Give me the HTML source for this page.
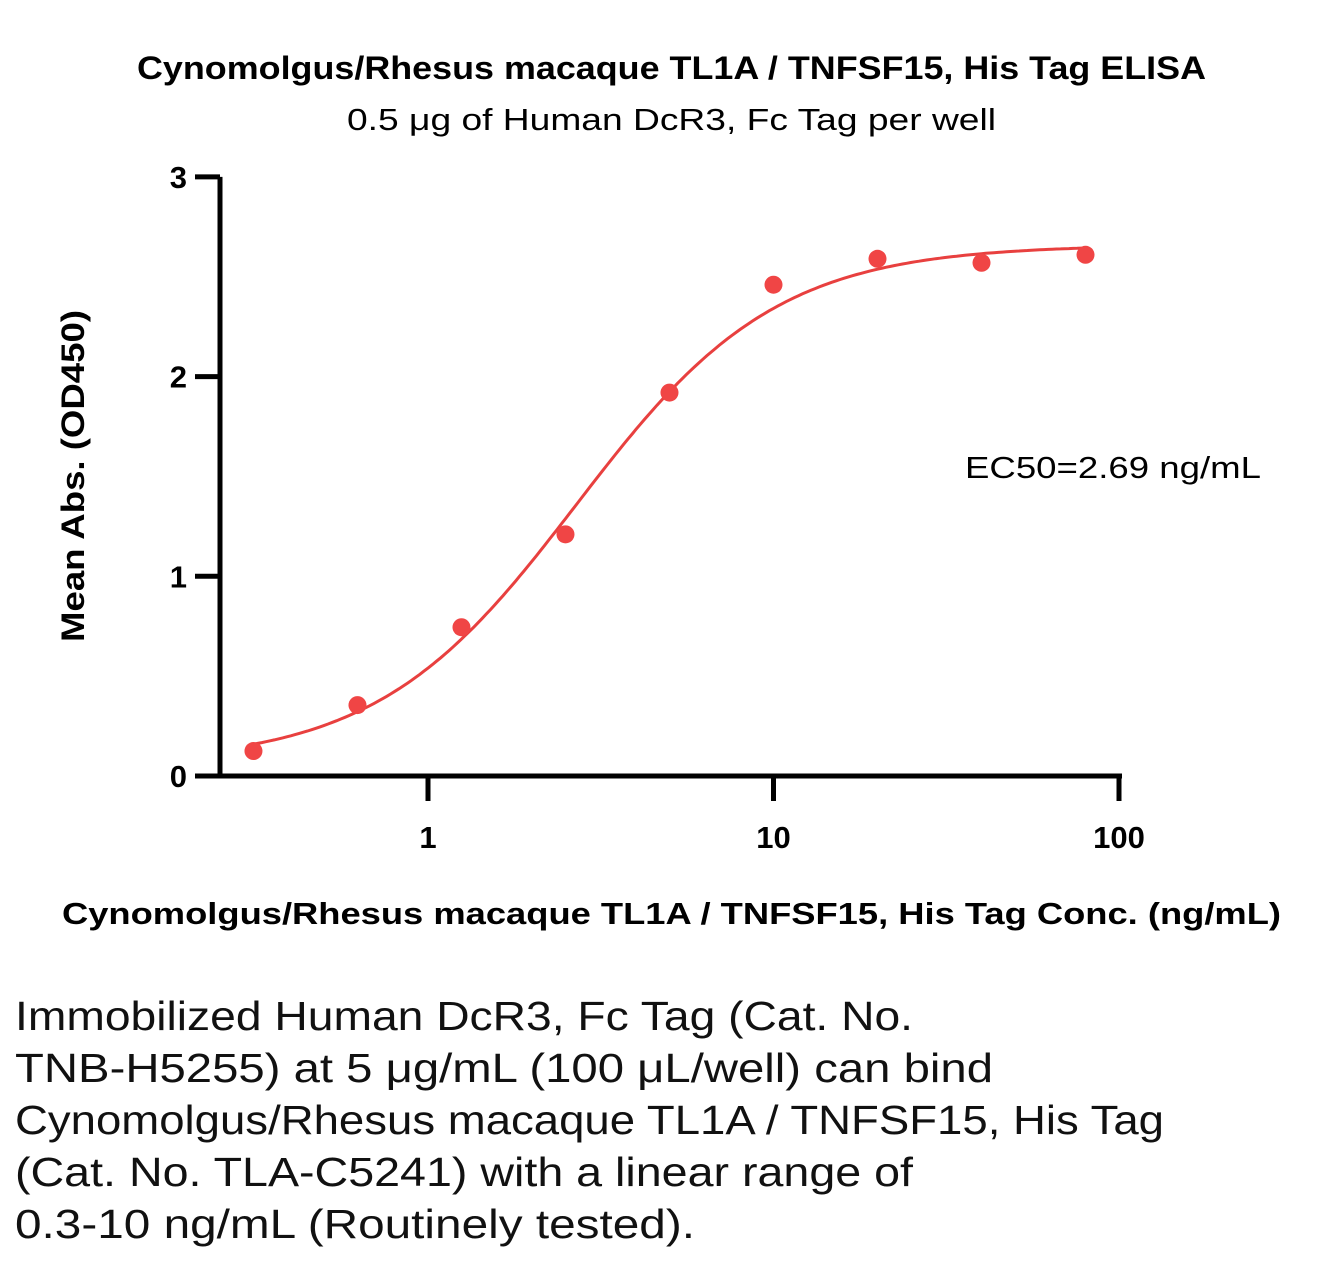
<!DOCTYPE html>
<html><head><meta charset="utf-8"><style>
body{margin:0;background:#fff;width:1325px;height:1261px;overflow:hidden;font-family:"Liberation Sans",sans-serif}
</style></head><body>
<svg id="chart" width="1325" height="1261" style="position:absolute;left:0;top:0" font-family="Liberation Sans, sans-serif">
<text x="137" y="79" textLength="1069" lengthAdjust="spacingAndGlyphs" font-size="32" font-weight="bold">Cynomolgus/Rhesus macaque TL1A / TNFSF15, His Tag  ELISA</text>
<text x="347" y="130" textLength="649" lengthAdjust="spacingAndGlyphs" font-size="31">0.5 μg of Human DcR3, Fc Tag per well</text>
<text transform="translate(84,642) rotate(-90)" textLength="332" lengthAdjust="spacingAndGlyphs" font-size="32" font-weight="bold">Mean Abs. (OD450)</text>
<text x="62" y="924" textLength="1219" lengthAdjust="spacingAndGlyphs" font-size="31" font-weight="bold">Cynomolgus/Rhesus macaque TL1A / TNFSF15, His Tag  Conc. (ng/mL)</text>
<text x="965" y="478" textLength="296" lengthAdjust="spacingAndGlyphs" font-size="31">EC50=2.69 ng/mL</text>
<g font-size="41" fill="#111">
<text x="15" y="1030" textLength="898" lengthAdjust="spacingAndGlyphs">Immobilized Human DcR3, Fc Tag (Cat. No.</text>
<text x="15" y="1082" textLength="978" lengthAdjust="spacingAndGlyphs">TNB-H5255) at 5 μg/mL (100 μL/well) can bind</text>
<text x="15" y="1134" textLength="1149" lengthAdjust="spacingAndGlyphs">Cynomolgus/Rhesus macaque TL1A / TNFSF15, His Tag</text>
<text x="15" y="1186" textLength="898" lengthAdjust="spacingAndGlyphs">(Cat. No. TLA-C5241) with a linear range of</text>
<text x="15" y="1238" textLength="680" lengthAdjust="spacingAndGlyphs">0.3-10 ng/mL (Routinely tested).</text>
</g>
<g id="axes"></g><g id="marks"></g>
</svg>
<script>
const concentrations=[0.3125,0.625,1.25,2.5,5,10,20,40,80];
const absorbances=[0.125,0.355,0.745,1.21,1.92,2.46,2.59,2.57,2.61];
const yTicks=[0,1,2,3];
const xTicks=[1,10,100];
const fitBottom=0.06, fitTop=2.66, fitEC50=2.69, fitHill=1.5;
const NS="http://www.w3.org/2000/svg";
const xs=v=>428+345.5*Math.log10(v);
const ys=v=>776-199.7*v;
function mk(tag,attrs,parent){const e=document.createElementNS(NS,tag);for(const k in attrs)e.setAttribute(k,attrs[k]);parent.appendChild(e);return e;}
const ax=document.getElementById('axes'),mg=document.getElementById('marks');
let yl=mk('line',{x1:220,y1:ys(3),x2:220,y2:ys(0)+2,stroke:'#000','stroke-width':5},ax);


let xl=mk('line',{x1:195,y1:776,x2:1122,y2:776,stroke:'#000','stroke-width':5},ax);


yTicks.forEach(t=>{
 let l=mk('line',{x1:195,x2:220,y1:ys(t),y2:ys(t),stroke:'#000','stroke-width':5},ax);
 
 
 let tx=mk('text',{x:187,y:ys(t)+11,'text-anchor':'end','font-size':31,'font-weight':'bold'},ax);tx.textContent=t;
 
 
});
xTicks.forEach(t=>{
 let l=mk('line',{x1:xs(t),x2:xs(t),y1:776,y2:801,stroke:'#000','stroke-width':5},ax);
 
 
 let tx=mk('text',{x:xs(t),y:848,'text-anchor':'middle','font-size':31,'font-weight':'bold'},ax);tx.textContent=t;
 
 
});
let d='';
for(let i=0;i<=200;i++){const lx=Math.log10(concentrations[0])+i/200*(Math.log10(concentrations[concentrations.length-1])-Math.log10(concentrations[0]));const x=Math.pow(10,lx);
 const r=Math.pow(x/fitEC50,fitHill);const y=fitBottom+(fitTop-fitBottom)*r/(1+r);d+=(i?'L':'M')+xs(x).toFixed(1)+','+ys(y).toFixed(1);}
let c=mk('path',{d:d,fill:'none',stroke:'#e8403f','stroke-width':3},mg);


concentrations.forEach((v,i)=>{
 let p=mk('circle',{cx:xs(v),cy:ys(absorbances[i]),r:9,fill:'#f04545'},mg);
 
 
});
</script>
</body></html>
